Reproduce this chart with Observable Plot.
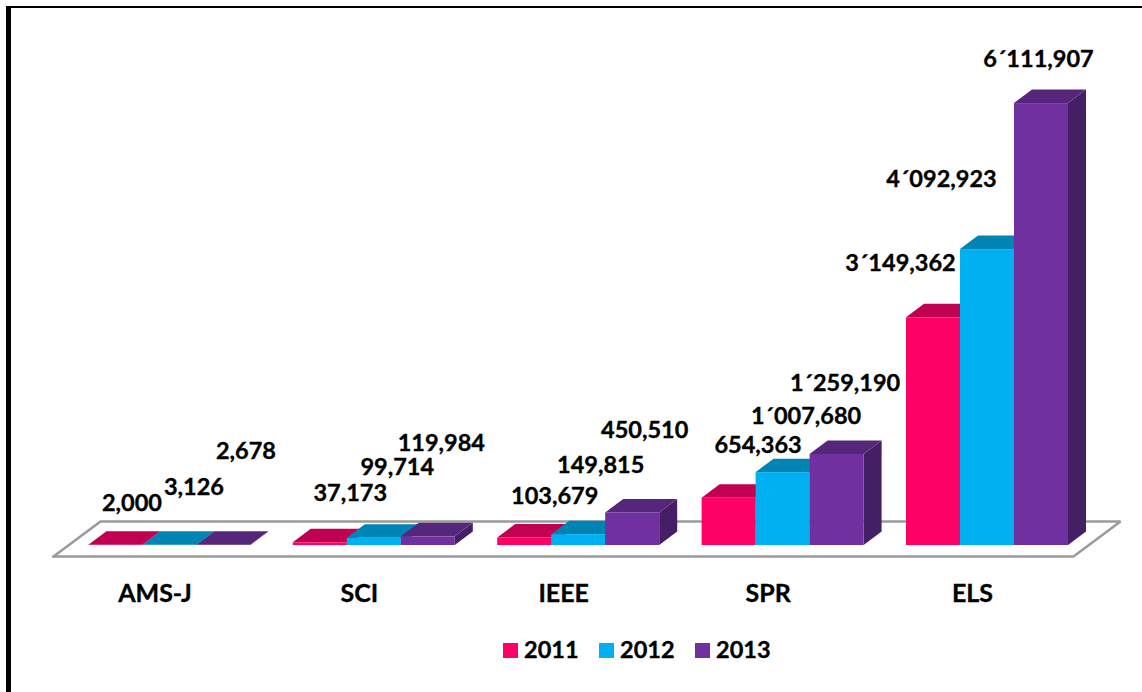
<!DOCTYPE html>
<html>
<head>
<meta charset="utf-8">
<script src="https://cdn.jsdelivr.net/npm/d3@7"></script>
<script src="https://cdn.jsdelivr.net/npm/@observablehq/plot@0.6"></script>
<style>
html,body{margin:0;padding:0;background:#fff;overflow:hidden;width:1142px;height:692px}
body{position:relative;font-family:Lato,sans-serif}
#frame{position:absolute;left:6px;top:6px;right:0;bottom:0;border-left:5px solid #000;border-top:2.5px solid #000;box-sizing:border-box;pointer-events:none}
#chart svg{display:block}
#legend{position:relative;height:60px;font:700 23.5px Lato,sans-serif;color:#000;-webkit-text-stroke:0.35px #000}
#legend .item{position:absolute;top:-1px;display:flex;align-items:center;height:36px}
#legend .sw{width:15px;height:15px;margin-right:6px;display:block;margin-top:2px}
</style>
</head>
<body>
<div id="frame"></div>
<div id="chart"></div>
<div id="legend"></div>
<script>
const categories = ["AMS-J", "SCI", "IEEE", "SPR", "ELS"];
const years = ["2011", "2012", "2013"];
const values2011 = [2000, 37173, 103679, 654363, 3149362];
const values2012 = [3126, 99714, 149815, 1007680, 4092923];
const values2013 = [2678, 119984, 450510, 1259190, 6111907];
const frontColors = ["#ff0066", "#00b0f0", "#7030a0"];
const topColors = ["#c00050", "#0084b4", "#56267a"];
const sideColors = ["#a00044", "#006f98", "#451f66"];

// layout constants of the 3D look (pixels)
const W = 1142, H = 632, baseY = 545, pxPerUnit = 72.3e-6, barW = 54, groupPitch = 204.4, firstBar = 88.4;
const depthX = 18, depthY = 13.5;
// manual label placement of the reference: pixel shift from each bar's front-top centre
const labelShiftX = [[16, 24, 22], [30, 23, 13], [30, 22, 12], [29, 23, 8], [-33, -46, -3]];
const labelShiftY = [[-42, -58, -94], [-49, -71, -93], [-42, -69, -82], [-53, -56, -71], [-54, -70, -44]];

const series = [values2011, values2012, values2013];
const xu = px => px / barW;            // px length to x units
const yu = px => px / pxPerUnit;       // px length to value units
const groupX = i => i * groupPitch / barW;

const bars = categories.flatMap((c, i) => series.map((vals, j) => ({
  category: c, i, j, value: vals[i],
  x1: groupX(i) + j, x2: groupX(i) + j + 1
})));

const fmt = v => {
  const s = d3.format(",")(v);
  return v >= 1e6 ? s.replace(",", "\u00b4") : s;
};

const topFace = bars.flatMap(b => [
  {...b, key: b.i + "-" + b.j, y: b.value, a: b.x1, c: b.x2},
  {...b, key: b.i + "-" + b.j, y: b.value + yu(depthY), a: b.x1 + xu(depthX), c: b.x2 + xu(depthX)}
]);
const sideFace = bars.flatMap(b => [
  {...b, key: b.i + "-" + b.j, x: b.x2, lo: 0, hi: b.value},
  {...b, key: b.i + "-" + b.j, x: b.x2 + xu(depthX), lo: yu(depthY), hi: b.value + yu(depthY)}
]);

// floor outline
const floorOut = [
  {x: xu(53 - firstBar), y: yu(545 - 556)},
  {x: xu(1073 - firstBar), y: yu(545 - 556)},
  {x: xu(1120 - firstBar), y: yu(545 - 521)},
  {x: xu(100 - firstBar), y: yu(545 - 521)},
  {x: xu(53 - firstBar), y: yu(545 - 556)}
];

const chart = Plot.plot({
  width: W, height: H,
  marginTop: 0, marginRight: 0, marginBottom: 0, marginLeft: 0,
  style: {fontFamily: "Lato, sans-serif", background: "transparent", overflow: "visible"},
  x: {domain: [xu(-firstBar), xu(W - firstBar)], range: [0, W], axis: null},
  y: {domain: [yu(baseY - H), yu(baseY)], range: [H, 0], axis: null},
  color: {type: "identity"},
  marks: [
    Plot.line(floorOut, {x: "x", y: "y", stroke: "#9a9a9a", strokeWidth: 2.5, strokeLinejoin: "miter", strokeLinecap: "square"}),
    Plot.areaY(sideFace, {x: "x", y1: "lo", y2: "hi", z: "key", fill: d => sideColors[d.j]}),
    Plot.areaX(topFace, {y: "y", x1: "a", x2: "c", z: "key", fill: d => topColors[d.j]}),
    Plot.rect(bars, {x1: "x1", x2: "x2", y1: 0, y2: "value", fill: d => frontColors[d.j], inset: 0}),
    Plot.text(bars, {
      x: d => (d.x1 + d.x2) / 2 + xu(labelShiftX[d.i][d.j]),
      y: d => d.value - yu(labelShiftY[d.i][d.j]),
      text: d => fmt(d.value),
      fontSize: 23.5, fontWeight: 700, fill: "#000", stroke: "#000", strokeWidth: 0.35, textAnchor: "middle", lineAnchor: "middle"
    }),
    Plot.text(categories, {
      x: (d, i) => groupX(i) + xu(66),
      y: () => yu(545 - 593),
      text: d => d,
      fontSize: 25, fontWeight: 700, fill: "#000", stroke: "#000", strokeWidth: 0.35, textAnchor: "middle", lineAnchor: "middle"
    })
  ]
});
document.getElementById("chart").appendChild(chart);

const legend = document.getElementById("legend");
years.forEach((y, j) => {
  const item = document.createElement("div");
  item.className = "item";
  item.style.left = (503 + j * 96) + "px";
  const sw = document.createElement("span");
  sw.className = "sw";
  sw.style.background = frontColors[j];
  item.appendChild(sw);
  item.appendChild(document.createTextNode(y));
  legend.appendChild(item);
});
</script>
</body>
</html>
